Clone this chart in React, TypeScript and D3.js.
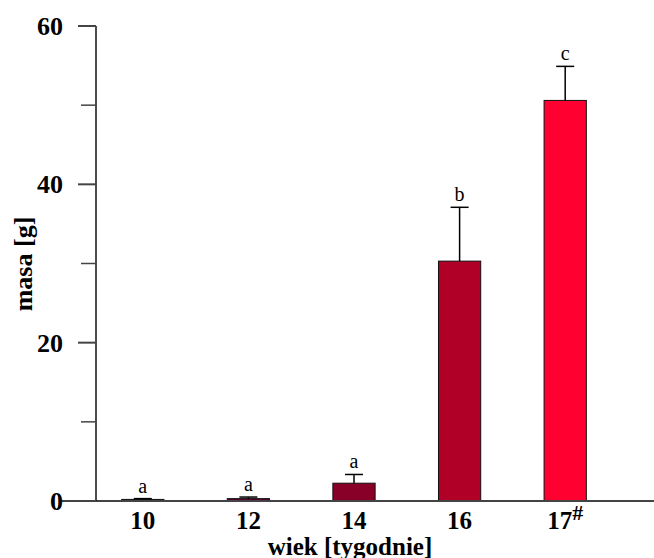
import React from "react";
import * as d3 from "d3";

const categories = ["10", "12", "14", "16", "17"];
const means = [0.2, 0.3, 2.25, 30.3, 50.6];
const errors = [0.1, 0.2, 1.1, 6.8, 4.3];
const letters = ["a", "a", "a", "b", "c"];
const colors = ["#1e0010", "#5c0030", "#880028", "#b00028", "#ff0030"];
const majorTicks = [0, 20, 40, 60];
const minorTicks = [10, 30, 50];

const W = 654;
const H = 558;
const FONT = "'Liberation Serif', 'Times New Roman', serif";

export default function App() {
  const y = d3.scaleLinear().domain([0, 60]).range([501, 26]);
  const x = d3
    .scaleBand<string>()
    .domain(categories)
    .range([90, 618])
    .paddingInner(0.6)
    .paddingOuter(0.3);
  const axisX = 96;
  const bw = x.bandwidth();

  return (
    <svg
      width={W}
      height={H}
      style={{ position: "absolute", left: 0, top: 0, background: "#fff" }}
      fontFamily={FONT}
    >
      {/* bars */}
      {categories.map((c, i) => (
        <rect
          key={"bar" + c}
          x={x(c)}
          y={y(means[i])}
          width={bw}
          height={y(0) - y(means[i])}
          fill={colors[i]}
          stroke="#111"
          strokeWidth={1}
        />
      ))}
      {/* error bars */}
      {categories.map((c, i) => {
        const cx = (x(c) as number) + bw / 2;
        const top = y(means[i] + errors[i]);
        return (
          <g key={"err" + c} stroke="#000" strokeWidth={1.5}>
            <line x1={cx} x2={cx} y1={y(means[i])} y2={top} />
            <line x1={cx - 9} x2={cx + 9} y1={top} y2={top} />
          </g>
        );
      })}
      {/* significance letters */}
      {categories.map((c, i) => (
        <text
          key={"let" + c}
          x={(x(c) as number) + bw / 2}
          y={y(means[i] + errors[i]) - 6}
          textAnchor="middle"
          fontSize={20}
          fill="#000"
        >
          {letters[i]}
        </text>
      ))}
      {/* x axis */}
      <line x1={62} x2={W} y1={y(0)} y2={y(0)} stroke="#444" strokeWidth={2} />
      {/* y axis */}
      <line x1={axisX} x2={axisX} y1={y(60)} y2={y(0)} stroke="#111" strokeWidth={1.5} />
      {majorTicks.map((t) => (
        <g key={"mt" + t}>
          <line x1={78} x2={axisX} y1={y(t)} y2={y(t)} stroke="#444" strokeWidth={2} />
          <text
            x={63}
            y={y(t) + 9}
            textAnchor="end"
            fontSize={26}
            fontWeight="bold"
            fill="#000"
          >
            {t}
          </text>
        </g>
      ))}
      {minorTicks.map((t) => (
        <line key={"mn" + t} x1={81} x2={axisX} y1={y(t)} y2={y(t)} stroke="#444" strokeWidth={1.5} />
      ))}
      {/* category labels */}
      {categories.map((c) => (
        <text
          key={"xl" + c}
          x={(x(c) as number) + bw / 2}
          y={529}
          textAnchor="middle"
          fontSize={25}
          fontWeight="bold"
          fill="#000"
        >
          {c}
          {c === "17" ? (
            <tspan dy={-9} fontSize={22}>
              #
            </tspan>
          ) : null}
        </text>
      ))}
      <text x={350} y={555} textAnchor="middle" fontSize={25} fontWeight="bold" fill="#000">
        wiek [tygodnie]
      </text>
      <text
        transform="translate(32,264) rotate(-90)"
        textAnchor="middle"
        fontSize={26}
        fontWeight="bold"
        fill="#000"
      >
        masa [g]
      </text>
    </svg>
  );
}
